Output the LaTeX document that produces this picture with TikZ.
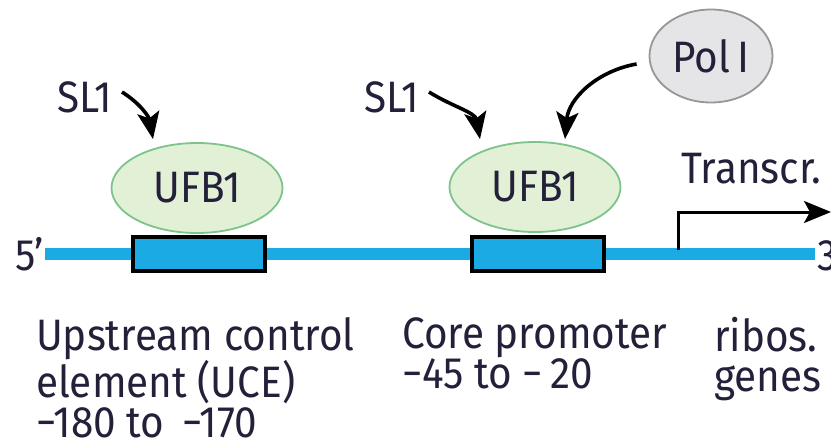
\documentclass[tikz,border=0pt]{standalone}
\usepackage{fontspec}
\setmainfont{Fira Sans}[FakeStretch=0.92]
\usetikzlibrary{arrows.meta,positioning,shapes}
\definecolor{dnablue}{RGB}{28,170,228}
\definecolor{ufbfill}{RGB}{226,240,214}
\definecolor{ufbedge}{RGB}{125,195,140}
\definecolor{polfill}{RGB}{229,229,231}
\definecolor{poledge}{RGB}{150,150,155}
\definecolor{txt}{RGB}{35,32,58}

\begin{document}
\begin{tikzpicture}[x=1pt,y=-1pt,font=\fontsize{44}{40}\selectfont,text=txt]
	\tikzstyle{ufb}=[draw=ufbedge, fill=ufbfill, ellipse, line width=1.8pt, minimum width=171pt, minimum height=90pt, inner sep=0pt]
	\tikzstyle{pol}=[draw=poledge, fill=polfill, ellipse, line width=1.8pt, minimum width=123pt, minimum height=93pt, inner sep=0pt]
	\tikzstyle{site}=[draw=black, fill=dnablue, rectangle, line width=3.2pt, minimum width=132pt, minimum height=34pt, inner sep=0pt]
	\tikzstyle{arr}=[-{Stealth[length=27pt,width=22pt,inset=6pt]}, line width=3.6pt, black]
	\tikzstyle{lbl}=[align=left, anchor=north west, inner sep=0pt]

	\useasboundingbox (0,0) rectangle (831,442);

	% DNA strand
	\coordinate (five) at (45,254);
	\coordinate (three) at (815,254);
	\draw[dnablue, line width=12pt] (five) -- (three);
	\node[anchor=east, inner sep=1pt] (p5) at (five) {5'};
	\node[anchor=west, inner sep=2pt] (p3) at (three) {3'};

	% binding sites
	\node[site] (uce) at (199,254) {};
	\node[site] (core) at (538,254) {};

	% factors
	\node[ufb] (ufb1) at (197,188) {UFB1};
	\node[ufb] (ufb2) at (535,187) {UFB1};
	\node[pol] (pol) at (711,56) {Pol\,I};
	\node (sl1a) at (85,97) {SL1};
	\node (sl1b) at (392,97) {SL1};

	\draw[arr] ([xshift=6pt,yshift=5pt]sl1a.east) to[out=-32,in=100] ([xshift=-44pt,yshift=3pt]ufb1.north);
	\draw[arr] ([xshift=6pt,yshift=5pt]sl1b.east) to[out=-32,in=100] ([xshift=-55pt,yshift=2pt]ufb2.north);
	\draw[arr] ([xshift=-12pt,yshift=-8pt]pol.west) to[out=190,in=85] ([xshift=30pt,yshift=2pt]ufb2.north);

	% transcription start
	\coordinate (tss) at (678,250);
	\coordinate (tssend) at (831,212);
	\draw[arr, line width=3pt] (tss) |- (tssend);
	\node[anchor=south west, inner sep=0pt] (transcr) at (681,184) {Transcr.};

	% labels below
	\node[lbl] (uceL) at (36,317) {Upstream control\\element (UCE)\\−180 to \,−170};
	\node[lbl] (coreL) at (402,317) {Core promoter\\−45 to −\,20};
	\node[lbl] (genesL) at (714,317) {ribos.\\genes};
\end{tikzpicture}
\end{document}
